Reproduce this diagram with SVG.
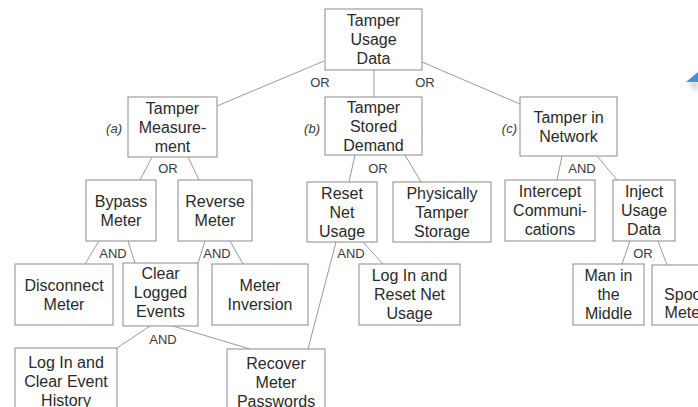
<svg xmlns="http://www.w3.org/2000/svg" width="698" height="407" viewBox="0 0 698 407">
  <style>
    .box { fill: #ffffff; stroke: #8a8a8a; stroke-width: 1; }
    .lbl { font-family: "Liberation Sans", Arial, Helvetica, sans-serif; font-size: 16px; fill: #2a2a2a; text-anchor: middle; }
    .gate { font-family: "Liberation Sans", Arial, Helvetica, sans-serif; font-size: 13px; fill: #3a3a3a; text-anchor: middle; }
    .tag { font-family: "Liberation Sans", Arial, Helvetica, sans-serif; font-size: 13px; font-style: italic; fill: #3a3a3a; text-anchor: end; }
    .edge { stroke: #9a9a9a; stroke-width: 1; fill: none; }
  </style>
  <defs>
    <filter id="soft" x="-50%" y="-50%" width="200%" height="200%">
      <feGaussianBlur stdDeviation="2"/>
    </filter>
  </defs>
  <rect x="0" y="0" width="698" height="407" fill="#ffffff"/>

  <!-- connectors -->
  <g id="connectors">
    <line class="edge" x1="324" y1="61" x2="217" y2="106"/>
    <line class="edge" x1="374" y1="70" x2="374" y2="97"/>
    <line class="edge" x1="422" y1="62" x2="520" y2="104"/>
    <line class="edge" x1="152" y1="157" x2="140" y2="180"/>
    <line class="edge" x1="188" y1="157" x2="199" y2="180"/>
    <line class="edge" x1="355" y1="155" x2="349" y2="182"/>
    <line class="edge" x1="405" y1="155" x2="421" y2="182"/>
    <line class="edge" x1="562" y1="156" x2="557" y2="180"/>
    <line class="edge" x1="597" y1="156" x2="617" y2="180"/>
    <line class="edge" x1="99" y1="241" x2="85" y2="264"/>
    <line class="edge" x1="128" y1="241" x2="135" y2="263"/>
    <line class="edge" x1="205" y1="241" x2="198" y2="263"/>
    <line class="edge" x1="230" y1="241" x2="243" y2="264"/>
    <line class="edge" x1="336" y1="242" x2="308" y2="349"/>
    <line class="edge" x1="363" y1="242" x2="383" y2="264"/>
    <line class="edge" x1="630" y1="241" x2="622" y2="264"/>
    <line class="edge" x1="658" y1="241" x2="667" y2="265"/>
    <line class="edge" x1="150" y1="326" x2="117" y2="348"/>
    <line class="edge" x1="173" y1="326" x2="250" y2="349"/>
  </g>

  <!-- gate labels -->
  <g id="gates">
    <text class="gate" x="320" y="87">OR</text>
    <text class="gate" x="425" y="87">OR</text>
    <text class="gate" x="168" y="173">OR</text>
    <text class="gate" x="378" y="173">OR</text>
    <text class="gate" x="582" y="173">AND</text>
    <text class="gate" x="113" y="258">AND</text>
    <text class="gate" x="217" y="258">AND</text>
    <text class="gate" x="351" y="258">AND</text>
    <text class="gate" x="643" y="258">OR</text>
    <text class="gate" x="163" y="344">AND</text>
  </g>

  <!-- branch tags -->
  <g id="tags">
    <text class="tag" x="122" y="133">(a)</text>
    <text class="tag" x="320" y="133">(b)</text>
    <text class="tag" x="517" y="133">(c)</text>
  </g>

  <g id="root">
    <rect class="box" x="325" y="9" width="97" height="61"/>
    <text class="lbl" x="373.5" y="26">Tamper</text>
    <text class="lbl" x="373.5" y="45">Usage</text>
    <text class="lbl" x="373.5" y="64">Data</text>
  </g>

  <g id="measurement">
    <rect class="box" x="128" y="97" width="89" height="60"/>
    <text class="lbl" x="172.5" y="113.5">Tamper</text>
    <text class="lbl" x="172.5" y="132.5">Measure-</text>
    <text class="lbl" x="172.5" y="151.5">ment</text>
  </g>

  <g id="stored">
    <rect class="box" x="325" y="97" width="97" height="58"/>
    <text class="lbl" x="373.5" y="113">Tamper</text>
    <text class="lbl" x="373.5" y="132">Stored</text>
    <text class="lbl" x="373.5" y="151">Demand</text>
  </g>

  <g id="network">
    <rect class="box" x="520" y="97" width="97" height="59"/>
    <text class="lbl" x="568.5" y="122.5">Tamper in</text>
    <text class="lbl" x="568.5" y="141.5">Network</text>
  </g>

  <g id="bypass">
    <rect class="box" x="86" y="180" width="70" height="61"/>
    <text class="lbl" x="121" y="206.5">Bypass</text>
    <text class="lbl" x="121" y="225.5">Meter</text>
  </g>

  <g id="reverse">
    <rect class="box" x="178" y="180" width="74" height="61"/>
    <text class="lbl" x="215" y="206.5">Reverse</text>
    <text class="lbl" x="215" y="225.5">Meter</text>
  </g>

  <g id="reset">
    <rect class="box" x="307" y="182" width="70" height="60"/>
    <text class="lbl" x="342" y="198.5">Reset</text>
    <text class="lbl" x="342" y="217.5">Net</text>
    <text class="lbl" x="342" y="236.5">Usage</text>
  </g>

  <g id="physical">
    <rect class="box" x="393" y="182" width="98" height="60"/>
    <text class="lbl" x="442" y="198.5">Physically</text>
    <text class="lbl" x="442" y="217.5">Tamper</text>
    <text class="lbl" x="442" y="236.5">Storage</text>
  </g>

  <g id="intercept">
    <rect class="box" x="505" y="180" width="90" height="61"/>
    <text class="lbl" x="550" y="197">Intercept</text>
    <text class="lbl" x="550" y="216">Communi-</text>
    <text class="lbl" x="550" y="235">cations</text>
  </g>

  <g id="inject">
    <rect class="box" x="613" y="180" width="62" height="61"/>
    <text class="lbl" x="644" y="197">Inject</text>
    <text class="lbl" x="644" y="216">Usage</text>
    <text class="lbl" x="644" y="235">Data</text>
  </g>

  <g id="disconnect">
    <rect class="box" x="15" y="264" width="98" height="61"/>
    <text class="lbl" x="64" y="290.5">Disconnect</text>
    <text class="lbl" x="64" y="309.5">Meter</text>
  </g>

  <g id="clear-logged">
    <rect class="box" x="123" y="263" width="75" height="63"/>
    <text class="lbl" x="160.5" y="279">Clear</text>
    <text class="lbl" x="160.5" y="298">Logged</text>
    <text class="lbl" x="160.5" y="317">Events</text>
  </g>

  <g id="inversion">
    <rect class="box" x="212" y="264" width="96" height="61"/>
    <text class="lbl" x="260" y="290.5">Meter</text>
    <text class="lbl" x="260" y="309.5">Inversion</text>
  </g>

  <g id="login-reset">
    <rect class="box" x="359" y="264" width="101" height="61"/>
    <text class="lbl" x="409.5" y="281">Log In and</text>
    <text class="lbl" x="409.5" y="300">Reset Net</text>
    <text class="lbl" x="409.5" y="319">Usage</text>
  </g>

  <g id="mitm">
    <rect class="box" x="573" y="264" width="71" height="61"/>
    <text class="lbl" x="608.5" y="281">Man in</text>
    <text class="lbl" x="608.5" y="300">the</text>
    <text class="lbl" x="608.5" y="319">Middle</text>
  </g>

  <g id="spoof">
    <rect class="box" x="652" y="265" width="66" height="60"/>
    <text class="lbl" x="685" y="300">Spoof</text>
    <text class="lbl" x="685" y="318">Meter</text>
  </g>

  <g id="login-clear">
    <rect class="box" x="15" y="348" width="102" height="72"/>
    <text class="lbl" x="66" y="367.5">Log In and</text>
    <text class="lbl" x="66" y="386.5">Clear Event</text>
    <text class="lbl" x="66" y="405.5">History</text>
  </g>

  <g id="recover">
    <rect class="box" x="227" y="349" width="98" height="72"/>
    <text class="lbl" x="276" y="368.5">Recover</text>
    <text class="lbl" x="276" y="387.5">Meter</text>
    <text class="lbl" x="276" y="406.5">Passwords</text>
  </g>

  <!-- blue pointer shape at the right edge, with its soft shadow -->
  <g id="pointer">
    <polygon points="687,84 698,78 698,92" fill="#c8c8c8" filter="url(#soft)" opacity="0.7"/>
    <polygon points="686,82 698,72 698,82" fill="#4a8fd6"/>
  </g>
</svg>
